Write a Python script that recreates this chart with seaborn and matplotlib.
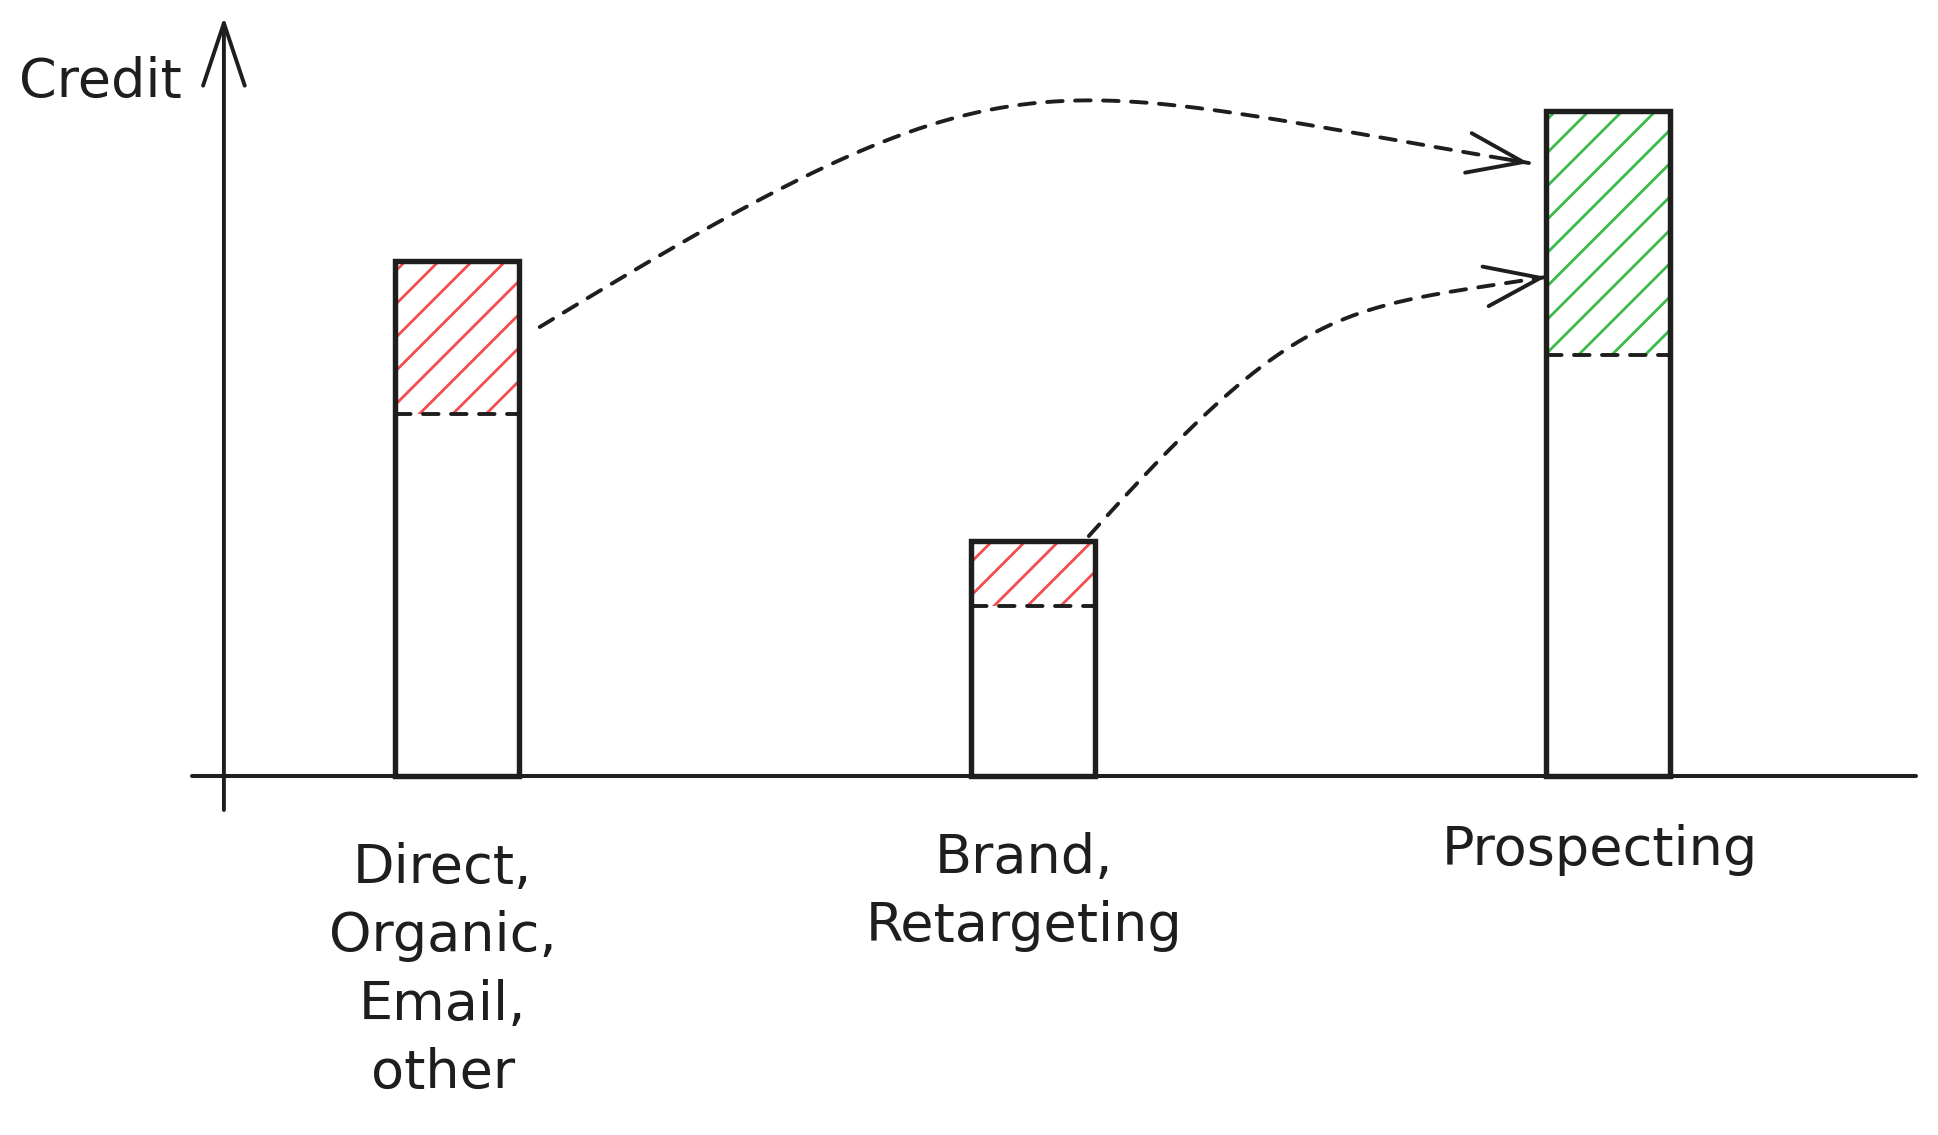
import numpy as np
import pandas as pd
import seaborn as sns
import matplotlib.pyplot as plt

# credit per channel group (arbitrary units)
channels = ["Direct,\nOrganic,\nEmail,\nother", "Brand,\nRetargeting", "Prospecting"]
base_credit = [3.62, 1.70, 4.21]
shift_credit = [1.53, 0.65, 2.44]
shift_kind = ["lost", "lost", "gained"]

sns.set_theme(style="white")
plt.rcParams["font.family"] = ["DejaVu Sans"]
plt.rcParams["hatch.linewidth"] = 2.0

ink = "#1e1e1e"
pal = {"lost": "#f44d4d", "gained": "#3dbb4a"}
bar_w = 0.2155
dash = (0, (4, 3.2))

df = pd.DataFrame({"channel": channels, "base": base_credit,
                   "shift": shift_credit, "kind": shift_kind})
df["total"] = df["base"] + df["shift"]

fig = plt.figure(figsize=(19.38, 11.35), dpi=100)
ax = fig.add_axes([0, 0, 1, 1])

# hatched part (full height, lower part covered below)
sns.barplot(data=df, x="channel", y="total", hue="kind", palette=pal, dodge=False,
            width=bar_w, saturation=1, errorbar=None, legend=False, ax=ax)
for p in ax.patches:
    c = p.get_facecolor()
    p.set_edgecolor(c)
    p.set_facecolor("white")
    p.set_hatch("/")
    p.set_linewidth(0)

# plain base part
sns.barplot(data=df, x="channel", y="base", color="white", width=bar_w,
            saturation=1, errorbar=None, linewidth=0, ax=ax)

# outlines
sns.barplot(data=df, x="channel", y="total", fill=False, color=ink, width=bar_w,
            saturation=1, errorbar=None, linewidth=3.9, facecolor="none",
            edgecolor=ink, ax=ax)

# dashed split between kept and moved credit
xs = np.arange(len(channels))
ax.hlines(df["base"], xs - bar_w / 2, xs + bar_w / 2, colors=ink, lw=2.8,
          linestyles=dash, capstyle="round", zorder=5)

# axes drawn by hand
ax.plot([-0.46, 2.535], [0, 0], color=ink, lw=2.9, solid_capstyle="round", zorder=6)
ax.annotate("", xy=(-0.405, 7.59), xytext=(-0.405, -0.34),
            arrowprops=dict(arrowstyle="->,head_length=0.75,head_width=0.25",
                            color=ink, lw=2.8, mutation_scale=60,
                            shrinkA=0, shrinkB=0))
ax.text(-0.619, 6.79, "Credit", ha="center", va="baseline", fontsize=39, color=ink)


def bezier(p0, c1, c2, p3, n=200):
    t = np.linspace(0, 1, n)[:, None]
    pts = ((1 - t) ** 3 * np.array(p0) + 3 * (1 - t) ** 2 * t * np.array(c1)
           + 3 * (1 - t) * t ** 2 * np.array(c2) + t ** 3 * np.array(p3))
    return pts


def dashed_arrow(p0, c1, c2, p3):
    pts = bezier(p0, c1, c2, p3)
    ax.plot(pts[:, 0], pts[:, 1], color=ink, lw=2.8, linestyle=dash,
            dash_capstyle="round", zorder=7)
    ax.annotate("", xy=pts[-1], xytext=pts[-4],
                arrowprops=dict(arrowstyle="->,head_length=1.0,head_width=0.36",
                                color=ink, lw=2.8, mutation_scale=40,
                                shrinkA=0, shrinkB=0), zorder=7)


# moved credit: direct group -> prospecting, brand -> prospecting
left3 = 2 - bar_w / 2
dashed_arrow((0 + bar_w / 2 + 0.036, 4.49), (0.98, 7.42), (0.99, 6.96), (left3 - 0.03, 6.13))
dashed_arrow((1 + bar_w / 2 - 0.01, df["total"][1] + 0.05), (1.465, 4.76), (1.535, 4.67), (left3, 4.99))

# category labels under the axis
label_y = [-0.66, -0.56, -0.48]
label_dx = [-0.025, -0.015, -0.015]
for i, name in enumerate(channels):
    ax.text(i + label_dx[i], label_y[i], name, ha="center", va="top", fontsize=39,
            color=ink, linespacing=1.4)

ax.set_xlim(-0.794, 2.573)
ax.set_ylim(-3.59, 7.76)
ax.set_axis_off()

fig.savefig("out.png", dpi=100, facecolor="white")
